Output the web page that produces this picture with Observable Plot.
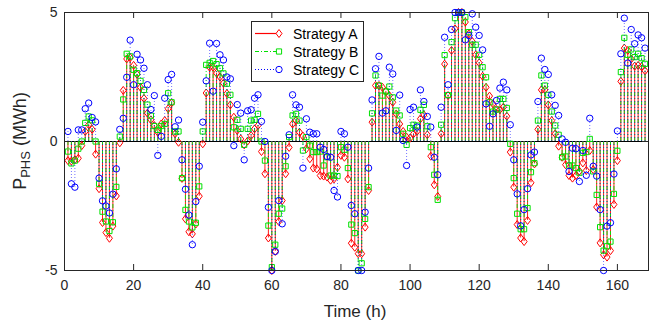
<!DOCTYPE html>
<html><head><meta charset="utf-8">
<script src="https://cdn.jsdelivr.net/npm/d3@7"></script>
<script src="https://cdn.jsdelivr.net/npm/@observablehq/plot@0.6"></script>
<style>
html,body{margin:0;padding:0;background:#fff;}
#chart{width:657px;height:324px;overflow:hidden;}
svg{font-family:"Liberation Sans",Arial,Helvetica,sans-serif;}
</style></head><body><div id="chart"></div>
<script>
const hours = d3.range(1, 169);
const strategyA = [
-0.74,-0.76,-0.71,-0.65,-0.16,0.39,0.65,0.47,-0.49,-1.83,-3.14,-3.53,
-3.75,-3.28,-2.11,-0.05,1.98,3.2,3.25,2.95,2.6,2.1,1.67,1.1,
0.84,0.62,0.36,0.68,0.81,1.27,1.5,0.3,-0.03,-1.43,-3.0,-3.5,
-3.58,-3.2,-2.12,-0.09,1.88,2.88,2.88,2.65,2.5,2.26,1.86,1.42,
0.94,0.43,0.1,-0.13,0.02,0.23,0.49,0.62,-0.39,-1.25,-3.74,-5.0,
-4.26,-3.1,-2.29,-1.25,-0.23,0.68,0.81,0.36,0.21,-0.28,-0.67,-1.03,
-1.06,-1.32,-1.34,-1.38,-1.5,-1.45,-1.0,-0.54,-0.61,-1.45,-3.94,-4.1,
-4.35,-4.35,-3.32,-1.9,0.75,2.17,2.17,2.1,1.94,1.78,1.52,1.07,
0.68,0.39,0.17,0.13,0.3,0.39,0.88,1.03,0.26,-0.57,-1.68,-2.13,
0.3,3.0,1.78,3.53,4.37,5.0,5.0,4.63,4.17,3.88,3.36,3.05,
2.53,2.1,1.76,1.46,1.24,1.24,1.33,0.98,-0.41,-1.77,-3.22,-3.74,
-3.88,-3.06,-1.6,-0.87,0.47,2.0,2.0,1.42,0.81,0.3,-0.18,-0.61,
-0.9,-1.32,-1.42,-1.32,-1.15,-0.83,-1.12,-0.35,-1.09,-2.54,-3.93,-4.39,
-4.48,-4.23,-2.44,-0.74,2.33,3.62,3.53,3.2,2.92,2.95,2.9,2.74];
const strategyB = [
-0.39,-0.85,-0.74,-0.28,0.0,0.72,0.97,0.82,0.0,-1.64,-2.72,-3.1,
-3.47,-3.13,-1.76,0.19,1.63,3.4,3.3,2.78,2.65,2.35,2.0,1.43,
1.0,0.6,0.45,0.6,0.68,1.87,1.52,0.39,0.39,-1.42,-2.65,-3.1,
-3.33,-3.15,-1.74,0.39,2.97,3.05,3.12,3.0,2.84,2.64,2.24,1.81,
0.55,0.84,0.49,-0.13,0.49,0.81,0.84,1.07,0.0,-0.74,-3.26,-4.87,
-4.0,-2.8,-2.6,-0.96,0.17,1.01,1.07,0.81,-0.35,0.17,-0.16,-0.41,
-0.41,-0.39,-0.93,-0.61,-1.32,-1.32,-1.34,-0.22,-0.32,-1.03,-3.22,-3.55,
-5.0,-4.72,-3.0,-1.77,1.09,2.56,2.17,1.78,1.94,2.13,1.71,1.2,
1.01,0.3,-0.13,0.52,0.65,0.62,1.23,1.42,0.59,-0.22,-1.29,-2.26,
0.65,3.35,1.8,3.85,4.78,5.0,5.0,4.82,4.24,3.75,3.75,3.36,
2.88,2.49,1.52,1.16,1.24,1.65,1.65,1.3,-0.09,-1.42,-2.8,-3.4,
-3.4,-2.58,-1.19,-0.84,0.81,2.56,2.17,1.81,1.16,0.62,0.26,-0.61,
-0.58,-0.93,-0.93,-1.03,-1.21,-0.44,-0.41,0.1,-1.16,-2.07,-3.32,-4.23,
-4.06,-3.88,-2.03,-0.36,2.69,4.02,3.36,3.57,3.27,3.4,3.23,3.01];
const strategyC = [
0.39,-1.64,-1.77,0.45,0.45,1.27,1.49,0.93,0.76,-1.42,-2.3,-2.5,
-2.77,-2.04,-1.06,0.47,0.9,2.49,3.93,2.2,3.38,3.16,2.84,2.2,
1.24,1.78,-0.54,0.2,1.68,2.4,2.6,0.57,0.83,-0.71,-1.85,-2.85,
-4.0,-2.33,-0.96,0.75,2.35,3.81,1.95,3.8,3.36,3.16,2.5,2.43,
-0.16,1.43,1.1,-0.71,1.19,1.23,1.68,1.81,0.78,0.0,-2.55,-5.0,
-4.26,-2.29,-3.19,-0.57,0.26,1.81,1.42,1.33,-1.03,0.88,0.36,0.3,
0.3,-0.22,-0.31,-0.58,-0.61,-1.9,-2.15,0.39,0.3,-0.22,-2.48,-2.8,
-5.0,-5.0,-2.74,-1.03,1.61,2.82,3.3,1.1,1.19,2.88,2.62,0.43,
1.8,0.04,-0.93,1.24,1.33,0.56,2.0,1.55,0.97,0.56,-0.61,-1.29,
1.33,4.04,2.2,4.34,5.0,5.0,5.0,3.94,4.11,4.95,4.43,4.11,
3.55,1.46,0.59,1.07,1.59,2.07,2.3,2.0,0.65,-0.71,-2.03,-3.27,
-2.64,-1.83,-0.52,-0.41,1.55,3.23,2.79,2.6,1.81,1.4,1.01,0.1,
-0.03,-1.16,-0.26,-0.28,-1.55,-0.35,-1.31,0.9,-0.96,-1.34,-2.64,-5.0,
-3.28,-3.15,-1.26,0.41,3.4,4.78,3.04,4.34,3.79,4.13,4.02,3.62];
const seriesNames = ["Strategy A", "Strategy B", "Strategy C"];
const xTicks = [0, 20, 40, 60, 80, 100, 120, 140, 160];
const yTicks = [-5, 0, 5];
const xDomain = [0, 169];
const yDomain = [-5, 5];
const xLabel = "Time (h)";
const yLabelMain = "P", yLabelSub = "PHS", yLabelUnit = " (MWh)";

// marker shapes
const diamondSym = {draw(c){c.moveTo(0,-4);c.lineTo(3,0);c.lineTo(0,4);c.lineTo(-3,0);c.closePath();}};
const squareSym = {draw(c){c.moveTo(-2.6,-2.6);c.lineTo(2.6,-2.6);c.lineTo(2.6,2.6);c.lineTo(-2.6,2.6);c.closePath();}};
const circleSym = {draw(c){c.moveTo(3.2,0);c.arc(0,0,3.2,0,2*Math.PI);}};

const styles = [
  {color:"#ff0000", dash:"none", sym:diamondSym, stemOpacity:0.9},
  {color:"#00e000", dash:"4,2,1,2", sym:squareSym, stemOpacity:0.9},
  {color:"#0000ff", dash:"1,2", sym:circleSym, stemOpacity:0.55}
];
const allSeries = [strategyA, strategyB, strategyC];
const tables = allSeries.map((vals, i) => hours.map((t, j) => ({t, v: vals[j], s: seriesNames[i]})));

const W = 657, H = 324, mL = 64, mR = 9, mT = 12, mB = 54;
const pw = W - mL - mR, ph = H - mT - mB;
const tick = 6;

const marks = [];
marks.push(Plot.ruleY([0], {stroke:"#000", strokeWidth:1}));
tables.forEach((rows, i) => {
  const st = styles[i];
  marks.push(Plot.ruleX(rows, {x:"t", y1:0, y2:"v", stroke:st.color, strokeWidth:1, strokeOpacity:st.stemOpacity, strokeDasharray:st.dash === "none" ? null : st.dash}));
  marks.push(Plot.dot(rows, {x:"t", y:"v", symbol:st.sym, stroke:st.color, fill:"none", strokeWidth:1}));
});
marks.push(Plot.frame({stroke:"#262626", strokeWidth:1}));
marks.push(Plot.tickX(xTicks, {x:d=>d, stroke:"#262626", insetTop:ph - tick}));
marks.push(Plot.tickX(xTicks, {x:d=>d, stroke:"#262626", insetBottom:ph - tick}));
marks.push(Plot.tickY(yTicks, {y:d=>d, stroke:"#262626", insetRight:pw - tick}));
marks.push(Plot.tickY(yTicks, {y:d=>d, stroke:"#262626", insetLeft:pw - tick}));
marks.push(Plot.axisX({ticks:xTicks, tickSize:0, tickPadding:10, fontSize:14, tickFormat:d=>String(d), label:null, color:"#262626"}));
marks.push(Plot.axisY({ticks:yTicks, tickSize:0, tickPadding:7, fontSize:14, tickFormat:d=>String(d), label:null, color:"#262626"}));

const chart = Plot.plot({
  width:W, height:H, marginLeft:mL, marginRight:mR, marginTop:mT, marginBottom:mB,
  x:{domain:xDomain}, y:{domain:yDomain},
  style:{fontFamily:'"Liberation Sans", Arial, sans-serif', background:"#fff", color:"#262626"},
  marks
});
document.getElementById("chart").appendChild(chart);

const svg = d3.select(chart);
// axis titles
svg.append("text").attr("x", 355).attr("y", 317).attr("text-anchor","middle")
  .style("font-size","17px").style("fill","#262626").text(xLabel);
const yl = svg.append("text").attr("transform","translate(26,141) rotate(-90)")
  .attr("text-anchor","middle").style("font-size","18px").style("fill","#262626");
yl.append("tspan").text(yLabelMain);
yl.append("tspan").style("font-size","13px").attr("dy",4).text(yLabelSub);
yl.append("tspan").attr("dy",-4).text(yLabelUnit);

// legend
svg.append("rect").attr("x",251.5).attr("y",21.5).attr("width",112).attr("height",60)
  .style("fill","#ffffff").style("stroke","#262626").style("stroke-width","1px");
const rowY = [33.5, 51.5, 69.5];
seriesNames.forEach((name, i) => {
  const st = styles[i];
  svg.append("path").attr("d",`M255,${rowY[i]}H279`)
    .style("fill","none").style("stroke",st.color).style("stroke-opacity",1)
    .style("stroke-width","1.2px").style("stroke-dasharray",st.dash);
  const p = d3.path(); st.sym.draw(p);
  svg.append("path").attr("d",p.toString()).attr("transform",`translate(279,${rowY[i]})`)
    .style("fill","#ffffff").style("stroke",st.color).style("stroke-width","1px");
  svg.append("text").attr("x",293).attr("y",rowY[i]).attr("dy","0.36em")
    .attr("text-anchor","start").style("font-size","14px").style("fill","#000").text(name);
});
</script></body></html>
